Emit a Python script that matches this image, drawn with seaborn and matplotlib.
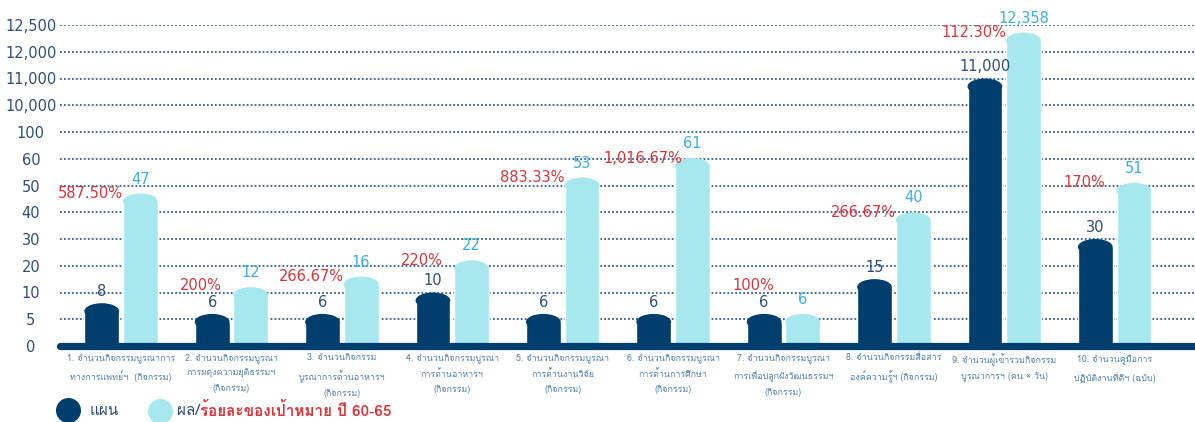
import numpy as np
import pandas as pd
import matplotlib
matplotlib.use("Agg")
import matplotlib.pyplot as plt
import seaborn as sns
from matplotlib import font_manager, ft2font
from matplotlib.patches import Ellipse
from matplotlib.lines import Line2D
from matplotlib.transforms import ScaledTranslation

# ================== DATA ==================
categories = [
    "1. จำนวนกิจกรรมบูรณาการ\nทางการแพทย์ฯ  (กิจกรรม)",
    "2. จำนวนกิจกรรมบูรณา\nการผดุงความยุติธรรมฯ\n(กิจกรรม)",
    "3. จำนวนกิจกรรม\nบูรณาการด้านอาหารฯ\n(กิจกรรม)",
    "4. จำนวนกิจกรรมบูรณา\nการด้านอาหารฯ\n(กิจกรรม)",
    "5. จำนวนกิจกรรมบูรณา\nการด้านงานวิจัย\n(กิจกรรม)",
    "6. จำนวนกิจกรรมบูรณา\nการด้านการศึกษา\n(กิจกรรม)",
    "7. จำนวนกิจกรรมบูรณา\nการเพื่อปลูกฝังวัฒนธรรมฯ\n(กิจกรรม)",
    "8. จำนวนกิจกรรมสื่อสาร\nองค์ความรู้ฯ (กิจกรรม)",
    "9. จำนวนผู้เข้าร่วมกิจกรรม\nบูรณาการฯ (คน × วัน)",
    "10. จำนวนคู่มือการ\nปฏิบัติงานที่ดีฯ (ฉบับ)",
]
plan = [8, 6, 6, 10, 6, 6, 6, 15, 11000, 30]
result = [47, 12, 16, 22, 53, 61, 6, 40, 12358, 51]
percent = ["587.50%", "200%", "266.67%", "220%", "883.33%", "1,016.67%",
           "100%", "266.67%", "112.30%", "170%"]
ytick_values = [0, 5, 10, 20, 30, 40, 50, 60, 100, 10000, 11000, 12000, 12500]
series_names = ["แผน", "ผล"]

# ================== FONT (need Thai glyphs) ==================
thai_font = None
for f in font_manager.fontManager.ttflist:
    try:
        if 0x0E01 in ft2font.FT2Font(f.fname).get_charmap():
            thai_font = f.name
            break
    except Exception:
        pass

sns.set_style("white")
plt.rcParams['font.family'] = ([thai_font] if thai_font else []) + ['DejaVu Sans']

DARK = "#003e6e"
LIGHT = "#a6e8ee"
DARK_TXT = "#2d4f78"
LIGHT_TXT = "#3aafe0"
RED = "#d8353b"

df = pd.DataFrame({
    "category": categories * 2,
    "series": [series_names[0]] * len(plan) + [series_names[1]] * len(result),
    "value": plan + result,
})

fig = plt.figure(figsize=(11.95, 4.22), dpi=100)
ax = fig.add_axes([60 / 1195, 1 - 346 / 422, 1135 / 1195, 321 / 422])

sns.barplot(data=df, x="category", y="value", hue="series", hue_order=series_names,
            palette=[DARK, LIGHT], width=0.7, gap=0.1, legend=False, ax=ax,
            saturation=1, zorder=2)

# piecewise (uneven) value axis: each tick gets the same spacing
idx = np.arange(len(ytick_values), dtype=float)
fwd = lambda v: np.interp(v, ytick_values, idx)
inv = lambda u: np.interp(u, idx, ytick_values)
ax.set_yscale("function", functions=(fwd, inv))
ax.set_ylim(0, 12500)
ax.set_xlim(-0.553, 9.728)
ax.set_yticks(ytick_values)
ax.set_yticklabels([f"{v:,}" for v in ytick_values], fontsize=10.5, color=DARK_TXT,
                   ha="center", family="DejaVu Sans")
ax.tick_params(axis="y", length=0, pad=21)
ax.tick_params(axis="x", length=0, pad=5)
ax.set_xticks(range(len(categories)))
ax.set_xticklabels(categories, fontsize=6.4, color="#4f80ad", linespacing=1.85)
ax.set_xlabel("")
ax.set_ylabel("")
for s in ax.spines.values():
    s.set_visible(False)

ax.yaxis.grid(True, color="#2f5f90", linestyle=(0, (1, 1.2)), linewidth=1.3, zorder=0)
ax.set_axisbelow(True)
ax.axhline(0, color=DARK, linewidth=5.2, zorder=5, clip_on=False)

# value labels
ax.bar_label(ax.containers[0], labels=[f"{v:,}" for v in plan], padding=3,
             fontsize=10.5, color=DARK_TXT, family="DejaVu Sans")
ax.bar_label(ax.containers[1], labels=[f"{v:,}" for v in result], padding=5,
             fontsize=10.5, color=LIGHT_TXT, family="DejaVu Sans")

# percent labels, above the plan label
for i, rect in enumerate(ax.containers[0]):
    xc = rect.get_x() + rect.get_width() / 2
    yv = inv(max(fwd(result[i]), fwd(plan[i]) + 1.05))
    ax.text(xc - 0.1, yv, percent[i], ha="center", va="center", fontsize=10.5,
            color=RED, family="DejaVu Sans")

# rounded bar tops
cap_px = 16
for cont in ax.containers:
    for rect in cont:
        x0, w, top = rect.get_x(), rect.get_width(), rect.get_height()
        xc = x0 + w / 2
        ydisp = ax.transData.transform((xc, top))[1] - cap_px / 2
        newtop = ax.transData.inverted().transform((0, ydisp))[1]
        rect.set_height(newtop)
        wpx = ax.transData.transform((x0 + w, 0))[0] - ax.transData.transform((x0, 0))[0]
        cap = Ellipse((0, 0), wpx / fig.dpi, cap_px / fig.dpi, facecolor=rect.get_facecolor(),
                      edgecolor="none", zorder=2, clip_on=False,
                      transform=fig.dpi_scale_trans + ScaledTranslation(xc, newtop, ax.transData))
        ax.add_patch(cap)

# legend drawn by hand (two-colour label)
fig.add_artist(Line2D([68 / 1195], [1 - 410 / 422], marker="o", markersize=17,
                      color=DARK, linestyle="none"))
fig.add_artist(Line2D([160 / 1195], [1 - 411 / 422], marker="o", markersize=17,
                      color=LIGHT, linestyle="none"))
fig.text(90 / 1195, 1 - 411 / 422, "แผน", fontsize=11, color=DARK_TXT, va="center")
t1 = fig.text(177 / 1195, 1 - 411 / 422, "ผล/", fontsize=11, color=DARK_TXT, va="center")
ax.annotate("ร้อยละของเป้าหมาย ปี 60-65", xy=(1, 0.5), xycoords=t1, ha="left", va="center",
            fontsize=11, color=RED, fontweight="bold", annotation_clip=False)

fig.savefig("out.png", dpi=100)
